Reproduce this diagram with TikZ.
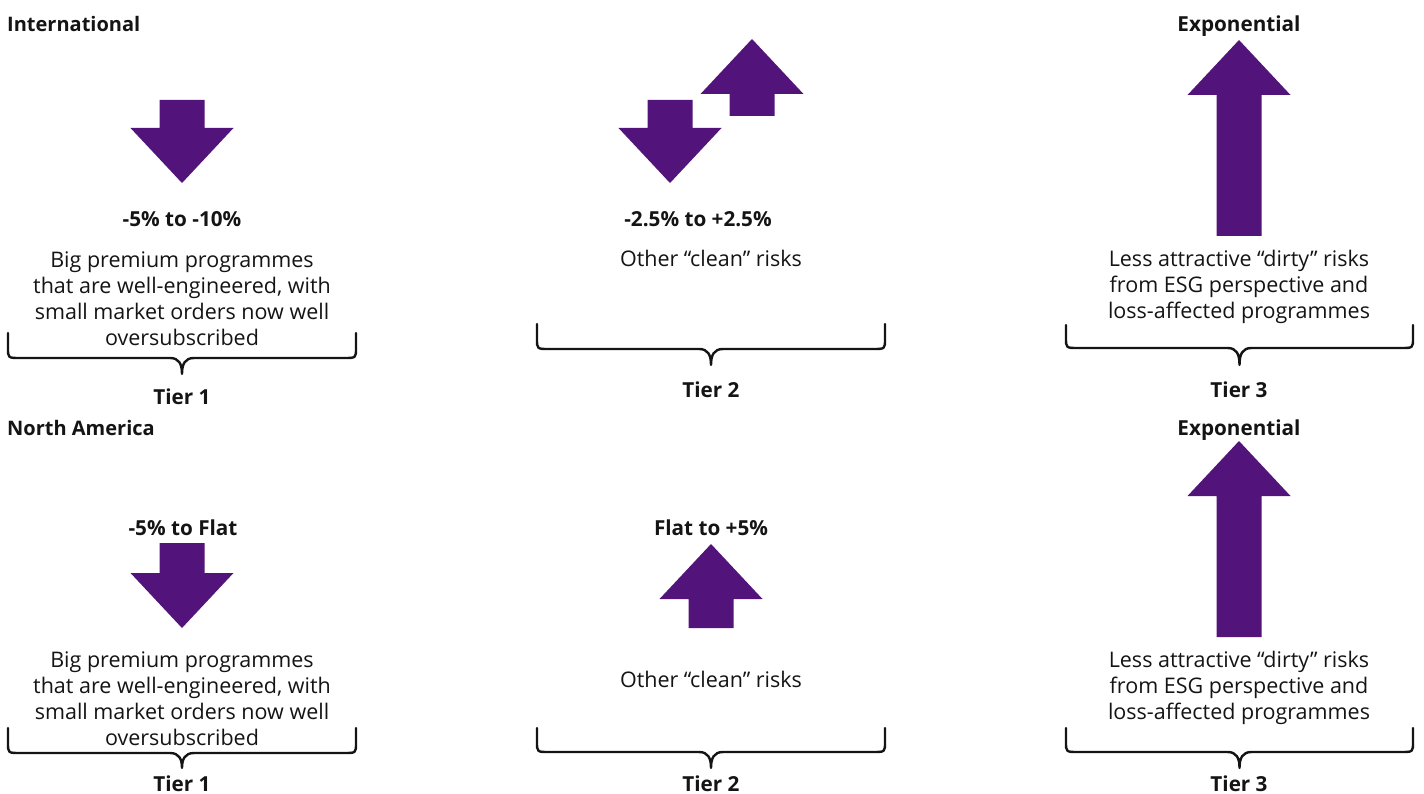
\documentclass[tikz,border=0pt]{standalone}
\usepackage{fontspec}
\setmainfont{Open Sans}
\definecolor{brandpurple}{RGB}{82,19,122}
\definecolor{inkblack}{RGB}{20,20,20}

% block arrow pointing down: centre x, top of shaft, tip
\newcommand{\shapedown}[3]{%
  \fill[brandpurple] ({#1-22.5},{#2}) -- ({#1+22.5},{#2}) -- ({#1+22.5},{#3-55}) -- ({#1+51.5},{#3-55})
    -- ({#1},{#3}) -- ({#1-51.5},{#3-55}) -- ({#1-22.5},{#3-55}) -- cycle;}
% block arrow pointing up: centre x, tip, bottom of shaft
\newcommand{\shapeup}[3]{%
  \fill[brandpurple] ({#1},{#2}) -- ({#1+51.5},{#2+55}) -- ({#1+22.5},{#2+55}) -- ({#1+22.5},{#3})
    -- ({#1-22.5},{#3}) -- ({#1-22.5},{#2+55}) -- ({#1-51.5},{#2+55}) -- cycle;}
% curly brace: left x, right x, top of ends, bar level, tip
\newcommand{\tierbrace}[5]{%
  \draw[bracestyle] ({#1},{#3}) -- ({#1},{#4-10}) .. controls ({#1},{#4}) .. ({#1+12},{#4})
    -- ({(#1+#2)/2-12},{#4}) .. controls ({(#1+#2)/2-3},{#4}) and ({(#1+#2)/2},{#4+6}) .. ({(#1+#2)/2},{#5})
    .. controls ({(#1+#2)/2},{#4+6}) and ({(#1+#2)/2+3},{#4}) .. ({(#1+#2)/2+12},{#4})
    -- ({#2-12},{#4}) .. controls ({#2},{#4}) .. ({#2},{#4-10}) -- ({#2},{#3});}

\tikzset{
  bracestyle/.style={draw=inkblack, line width=2.4pt, line cap=round, line join=round},
  hdr/.style={anchor=base west, inner sep=0pt, text=inkblack, font=\fontsize{20}{24}\selectfont\bfseries},
  val/.style={anchor=base, inner sep=0pt, text=inkblack, font=\fontsize{20.7}{24}\selectfont\bfseries},
  % multi-line bodies are placed by the baseline of their last line
  body/.style={anchor=base, inner sep=0pt, text=inkblack, align=center, font=\fontsize{21.5}{26}\selectfont},
  tier/.style={anchor=base, inner sep=0pt, text=inkblack, font=\fontsize{20.7}{24}\selectfont\bfseries}
}

\begin{document}
\begin{tikzpicture}[x=1pt,y=-1pt]
\useasboundingbox (0,0) rectangle (1424,794);

% ---------- International ----------
\node[hdr] (inthdr) at (7,32) {International};

\shapedown{182}{100}{183}
\node[val] (inttoneval) at (182,227) {-5\% to -10\%};
\node[body] (inttonetxt) at (182,345) {Big premium programmes\\that are well-engineered, with\\small market orders now well\\oversubscribed};
\tierbrace{8}{356}{333}{358}{374}
\node[tier] (inttonetier) at (182,404) {Tier 1};

\shapedown{670}{100}{183}
\shapeup{752}{39}{116}
\node[val] (intttwoval) at (698,227) {-2.5\% to +2.5\%};
\node[body] (intttwotxt) at (711,267) {Other “clean” risks};
\tierbrace{537}{885}{324}{349}{365}
\node[tier] (intttwotier) at (711,397) {Tier 2};

\node[val] (inttthreeval) at (1239,32) {Exponential};
\shapeup{1239}{40}{236}
\node[body] (inttthreetxt) at (1239,319) {Less attractive “dirty” risks\\from ESG perspective and\\loss-affected programmes};
\tierbrace{1066}{1413}{325}{348}{365}
\node[tier] (inttthreetier) at (1239,397) {Tier 3};

% ---------- North America ----------
\node[hdr] (nahdr) at (7,435) {North America};

\node[val] (natoneval) at (183,535) {-5\% to Flat};
\shapedown{182}{543}{628}
\node[body] (natonetxt) at (182,745) {Big premium programmes\\that are well-engineered, with\\small market orders now well\\oversubscribed};
\tierbrace{8}{356}{728}{753}{768}
\node[tier] (natonetier) at (182,791) {Tier 1};

\node[val] (natttwoval) at (711,535) {Flat to +5\%};
\shapeup{711}{544}{628}
\node[body] (natttwotxt) at (711,687) {Other “clean” risks};
\tierbrace{537}{885}{728}{752}{768}
\node[tier] (natttwotier) at (711,791) {Tier 2};

\node[val] (natthreeval) at (1239,435) {Exponential};
\shapeup{1239}{441}{637}
\node[body] (natthreetxt) at (1239,719) {Less attractive “dirty” risks\\from ESG perspective and\\loss-affected programmes};
\tierbrace{1066}{1413}{728}{752}{768}
\node[tier] (natthreetier) at (1239,791) {Tier 3};
\end{tikzpicture}
\end{document}
